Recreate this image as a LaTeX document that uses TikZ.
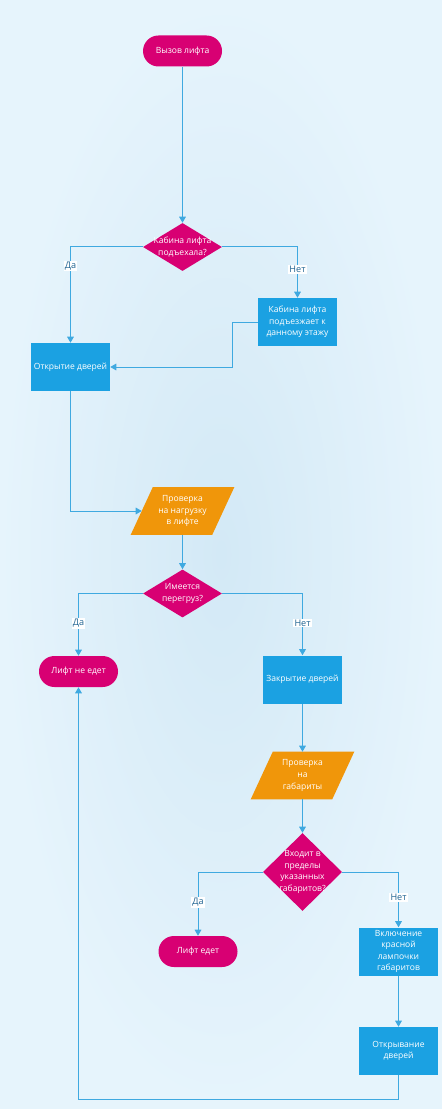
\documentclass[tikz,border=0pt]{standalone}
\usepackage{fontspec}
\setmainfont{Open Sans}
\usetikzlibrary{shapes.geometric,arrows.meta,calc}
\definecolor{mag}{HTML}{D80073}
\definecolor{cyanbox}{HTML}{1BA1E2}
\definecolor{amber}{HTML}{F0960A}
\definecolor{linec}{HTML}{3FA9E0}
\definecolor{labc}{HTML}{1F6391}
\definecolor{bgin}{HTML}{D3E9F6}
\definecolor{bgout}{HTML}{E6F4FC}
\begin{document}
\begin{tikzpicture}[x=0.75pt,y=-0.75pt,
  font=\fontsize{6.4}{8.7}\selectfont,
  term/.style={draw=none,fill=mag,text=white,rounded corners=11.6pt,minimum width=59.25pt,minimum height=23.25pt,inner sep=0pt,align=center},
  boxn/.style={fill=cyanbox,text=white,minimum width=59.25pt,minimum height=36pt,inner sep=0pt,align=center},
  diam/.style={diamond,fill=mag,minimum width=59.25pt,minimum height=36pt,inner sep=0pt},
  dtxt/.style={text=white,align=center,inner sep=0pt},
  parab/.style={minimum width=77.25pt,minimum height=35.25pt,inner sep=0pt},
  arr/.style={draw=linec,line width=0.75pt,-{Triangle[length=4.5pt,width=5pt]}},
  lab/.style={fill=white,text=labc,inner sep=0.8pt,font=\fontsize{6.8}{7}\selectfont}]
\shade[inner color=bgin,outer color=bgout] (0,0) rectangle (442,1109);
\useasboundingbox (0,0) rectangle (442,1109);

\node[term] (start) at (182.5,51) {Вызов лифта};
\node[diam] (d1) at (182.5,247) {};
\node[dtxt] at (d1) {Кабина лифта\\подъехала?};
\node[boxn] (b1) at (297.5,322) {Кабина лифта\\подъезжает к\\данному этажу};
\node[boxn] (b2) at (70.5,367) {Открытие дверей};

\node[parab] (p1) at (182.5,511) {};
\fill[amber] ($(p1.north west)+(22,0)$) -- (p1.north east) -- ($(p1.south east)+(-22,0)$) -- (p1.south west) -- cycle;
\node[dtxt] at (p1) {Проверка\\на нагрузку\\в лифте};
\coordinate (p1in) at ($(p1.west)+(11,0)$);

\node[diam] (d2) at (182.5,593.5) {};
\node[dtxt] at (d2) {Имеется\\перегруз?};
\node[term] (t1) at (78.5,671.5) {Лифт не едет};
\node[boxn] (b3) at (302.5,679.5) {Закрытие дверей};

\node[parab] (p2) at (302.5,775.5) {};
\fill[amber] ($(p2.north west)+(22,0)$) -- (p2.north east) -- ($(p2.south east)+(-22,0)$) -- (p2.south west) -- cycle;
\node[dtxt] at (p2) {Проверка\\на\\габариты};

\node[diam,minimum height=58.5pt] (d3) at (302.5,872) {};
\node[dtxt] at (d3) {Входит в\\пределы\\указанных\\габаритов?};
\node[term] (t2) at (198,951.5) {Лифт едет};
\node[boxn] (b4) at (398.5,951.5) {Включение\\красной\\лампочки\\габаритов};
\node[boxn] (b5) at (398.5,1051) {Открывание\\дверей};

\draw[arr] (start) -- (d1);
\draw[arr] (d1.west) -| node[lab,pos=0.6]{Да} (b2.north);
\draw[arr] (d1.east) -| node[lab,pos=0.72]{Нет} (b1.north);
\draw[arr] (b1.west) -- ++(-25,0) |- (b2.east);
\draw[arr] (b2.south) |- (p1in);
\draw[arr] (p1.south) -- (d2.north);
\draw[arr] (d2.west) -| node[lab,pos=0.74]{Да} (t1.north);
\draw[arr] (d2.east) -| node[lab,pos=0.74]{Нет} (b3.north);
\draw[arr] (b3.south) -- (p2.north);
\draw[arr] (p2.south) -- (d3.north);
\draw[arr] (d3.west) -| node[lab,pos=0.74]{Да} (t2.north);
\draw[arr] (d3.east) -| node[lab,pos=0.73]{Нет} (b4.north);
\draw[arr] (b4.south) -- (b5.north);
\draw[arr] (b5.south) -- ++(0,24) -| (t1.south);
\end{tikzpicture}
\end{document}
